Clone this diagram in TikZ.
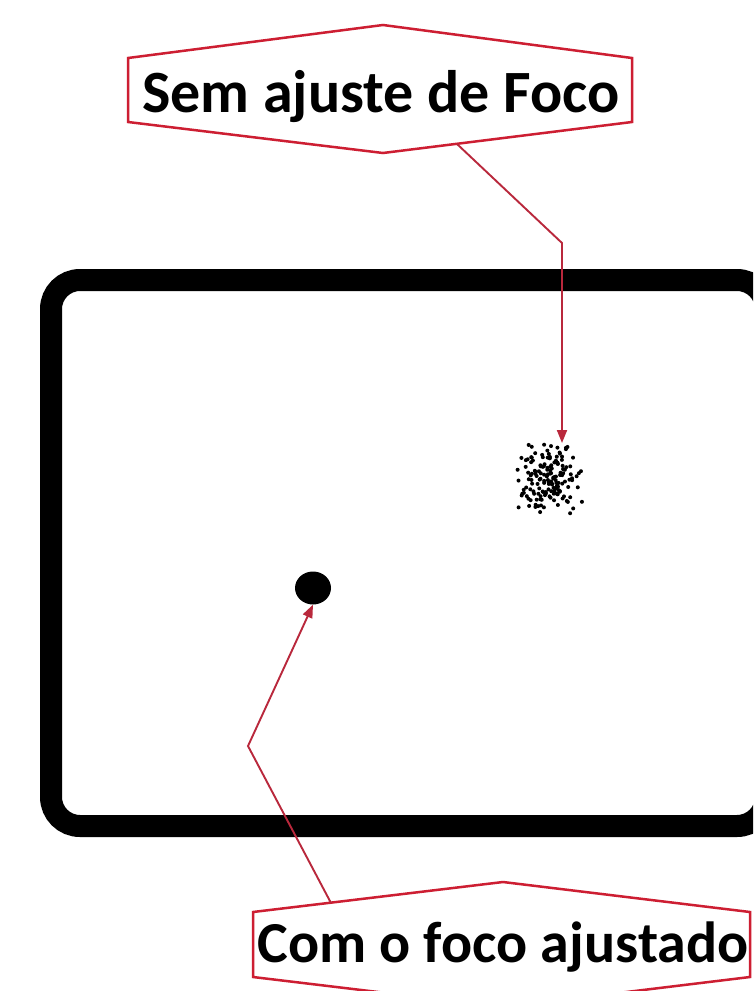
\documentclass[tikz,border=0pt]{standalone}
\usepackage{fontspec}
\setmainfont{Carlito}
\usetikzlibrary{arrows.meta,shapes.geometric}
\definecolor{lblred}{RGB}{205,30,50}
\definecolor{arrred}{RGB}{185,40,60}
\begin{document}
\begin{tikzpicture}[x=1pt,y=-1pt,
  lbltext/.style={font=\fontsize{60}{60}\selectfont\bfseries, inner sep=0pt, anchor=base},
  lblbox/.style={draw=lblred, line width=2.5pt, line join=miter},
  callout/.style={draw=arrred, line width=1.9pt, -{Triangle[length=13pt,width=10pt]}},
  framebox/.style={line width=22pt, rounded corners=29pt},
  speck/.style={fill=black}]
\useasboundingbox (0,0) rectangle (753,991);
\fill[white] (0,0) rectangle (753,991);
\begin{scope}
\clip (0,0) rectangle (753,991);
% frame
\draw[framebox] (51,280) rectangle (766,826);
% label boxes
\draw[lblbox] (128,58) -- (383,25) -- (632,58) -- (632,122) -- (383,153) -- (128,122) -- cycle;
\draw[lblbox] (253,912) -- (503,882) -- (750,912) -- (750,977) -- (503,1007) -- (253,977) -- cycle;
\end{scope}
% labels
\node[lbltext] (toplbl) at (381,112) {Sem ajuste de Foco};
\node[lbltext, font=\fontsize{58}{58}\selectfont\bfseries] (botlbl) at (503,962) {Com o foco ajustado};
% focused dot
\node[fill=black, ellipse, minimum width=36pt, minimum height=33pt, inner sep=0pt] (dot) at (313,588) {};
% unfocused cluster
\pgfmathsetseed{42}
\foreach \i in {1,...,160} {
  \pgfmathsetmacro\dx{17*(rand+rand)}
  \pgfmathsetmacro\dy{19*(rand+rand)}
  \fill[speck] (550+\dx,478+\dy) circle (2pt);
}
\coordinate (cluster) at (550,478);
\coordinate (clustertop) at (562,443);
% callouts
\coordinate (topstart) at (457,144);
\coordinate (topbend) at (562,243);
\draw[callout] (topstart) -- (topbend) -- (clustertop);
\coordinate (botstart) at (331,903);
\coordinate (botbend) at (248,746);
\draw[callout] (botstart) -- (botbend) -- (dot.south);
\end{tikzpicture}
\end{document}
